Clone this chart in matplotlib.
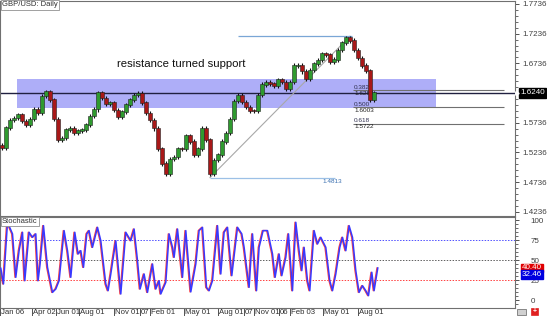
import numpy as np
import matplotlib
matplotlib.use('Agg')
import matplotlib.pyplot as plt
from matplotlib.patches import Rectangle

plt.rcParams['font.family'] = ['Liberation Sans', 'DejaVu Sans']

# daily GBP/USD closes, one every 4 chart pixels
bar_x = np.arange(2, 379, 4)
closes = [1.5320, 1.5650, 1.5780, 1.5817, 1.5870, 1.5760, 1.5700, 1.5800, 1.5960, 1.5900,
          1.6180, 1.6255, 1.6120, 1.5800, 1.5450, 1.5480, 1.5620, 1.5640, 1.5560, 1.5600,
          1.5620, 1.5700, 1.5850, 1.5960, 1.6240, 1.6150, 1.6060, 1.6070, 1.5950, 1.5830,
          1.5920, 1.6040, 1.6120, 1.6200, 1.6230, 1.6070, 1.5900, 1.5780, 1.5640, 1.5300,
          1.5050, 1.4880, 1.5120, 1.5160, 1.5300, 1.5290, 1.5520, 1.5420, 1.5200, 1.5300,
          1.5640, 1.5450, 1.4870, 1.5110, 1.5200, 1.5420, 1.5560, 1.5800, 1.6100, 1.6200,
          1.6080, 1.6000, 1.5940, 1.5930, 1.6200, 1.6380, 1.6420, 1.6390, 1.6360, 1.6460,
          1.6420, 1.6300, 1.6420, 1.6700, 1.6700, 1.6600, 1.6480, 1.6620, 1.6730, 1.6790,
          1.6900, 1.6880, 1.6760, 1.6800, 1.6960, 1.7080, 1.7170, 1.7120, 1.6960, 1.6820,
          1.6700, 1.6610, 1.6120, 1.6240]
first_open = 1.5360

bid = 1.6240
price_ticks = [1.4236, 1.4736, 1.5236, 1.5736, 1.6736, 1.7236, 1.7736]
zone_lo, zone_hi = 1.5985, 1.6473
zone_x = (17, 436)

fib_low, fib_high = 1.4813, 1.7193
fib_levels = [0.382, 0.500, 0.618]
fib_values = [1.6284, 1.6003, 1.5722]

# stochastic turning points (x in chart pixels, value 0-100)
stoch_x = [0, 2.7, 6.7, 11.7, 15, 18.3, 21.7, 24, 28.3, 31.7, 35, 37.3, 39.3, 42.7, 46.7,
           51.7, 55, 58.3, 63.3, 66.7, 70, 74, 77.3, 80, 82.7, 86, 88.3, 91.7, 96.7, 100,
           105, 107.3, 110, 115, 120, 125, 130, 133.3, 136.7, 139.3, 143.3, 146.7, 151.7, 155,
           158.3, 160, 165, 168.3, 171.7, 173.3, 176.7, 181.7, 185, 190, 195, 198.3, 201.7,
           205.7, 208.3, 211.7, 216.7, 220, 223.3, 226.7, 231, 236.7, 241, 243.3, 248.3, 251.7,
           255.7, 258.3, 262.3, 266.7, 271.7, 274.3, 278.3, 281, 285, 287.7, 291.7, 295, 298.3,
           301, 303.3, 306.7, 309, 313.3, 316.7, 320, 325, 329, 331.7, 335, 339, 341.7, 345,
           348.3, 351.7, 355, 358.3, 361.7, 365, 367.7, 371, 373.3, 377]
stoch_k = [40, 20.4, 97.5, 83, 28.7, 62, 85, 24.5, 85, 78.7, 83, 24.5, 45.4, 93.3, 41.2,
           9.9, 14.1, 24.5, 87.1, 62, 28.7, 85, 57.9, 62, 41.2, 83, 87.1, 66.2, 91.2, 74.5,
           20.4, 12, 32.9, 74.5, 7.9, 85, 74.5, 89.1, 49.5, 14.1, 32.9, 9.9, 45.4, 14.1,
           24.5, 7.9, 22.4, 83, 66.2, 53.7, 89.1, 28.7, 87.1, 10.5, 45.4, 87.1, 91.2,
           16.2, 12, 24.5, 93.3, 32.9, 85, 91.2, 30.8, 91.2, 83, 66.2, 16.2, 83,
           12, 66.2, 87.1, 87.1, 57.9, 28.7, 57.9, 30.8, 53.7, 83, 12, 97.5, 62,
           37.1, 66.2, 24.5, 12, 87.1, 70.4, 78.7, 66.2, 24.5, 12, 32.9, 66.2, 78.7, 62,
           93.3, 78.7, 37.1, 9.9, 18.3, 12, 5.8, 35, 12, 40.4]
stoch_main_last = 40.40
stoch_signal_last = 32.46
stoch_levels = [75, 50, 25]

date_pos = [0, 32, 56, 79, 114, 140, 150, 184, 218, 244, 254, 279, 290, 323, 358]
date_labels = ['Jan 06', 'Apr 02', 'Jun 01', 'Aug 01', 'Nov 01', '07', 'Feb 01', 'May 01',
               'Aug 01', '07', 'Nov 01', '06', 'Feb 03', 'May 01', 'Aug 01']

W, H = 547, 316
fig = plt.figure(figsize=(W / 100, H / 100), dpi=100)
ax = fig.add_axes([0, 100 / H, 515 / W, 215 / H])
ax2 = fig.add_axes([0, 8.5 / H, 515 / W, 90.5 / H])

spine_col = '#707070'
for a in (ax, ax2):
    a.set_xlim(0, 515)
    for s in a.spines.values():
        s.set_color(spine_col)
        s.set_linewidth(0.8)
    a.set_facecolor('white')

# --- price panel
ax.set_ylim(1.4167, 1.7786)
ax.add_patch(Rectangle((zone_x[0], zone_lo), zone_x[1] - zone_x[0], zone_hi - zone_lo,
                       facecolor='#aeaef8', edgecolor='none', zorder=1))

ax.axhline(bid, color='#202040', lw=1.0, zorder=2)

opens = [first_open] + closes[:-1]
for x, o, c in zip(bar_x, opens, closes):
    hi = max(o, c) + 0.0035
    lo = min(o, c) - 0.0035
    ax.vlines(x, lo, hi, color='#101010', lw=0.8, zorder=3)
    col = '#2f9a2f' if c >= o else '#a81818'
    ax.bar(x, abs(c - o) + 0.0008, bottom=min(o, c), width=3.2, color=col,
           edgecolor='#202020', linewidth=0.4, zorder=4)

# fibonacci tool
ax.plot([210, 350], [fib_low, fib_high], color='#a8a8a8', lw=0.8, zorder=2)
ax.hlines(fib_high, 238, 352, color='#7aa6d6', lw=0.9, zorder=2)
ax.hlines(fib_low, 210, 335, color='#9cc0e6', lw=0.9, zorder=2)
ax.text(322, fib_low - 0.003, '%.4f' % fib_low, color='#3a6fb0', fontsize=4.6,
        va='top', ha='left')
for lev, val in zip(fib_levels, fib_values):
    ax.hlines(val, 353, 504, color='#707070', lw=0.8, zorder=2)
    ax.text(354, val + 0.0003, '%.3f' % lev, fontsize=4.6, color='#303050', va='bottom')
    ax.text(354, val - 0.0012, '%.4f' % val, fontsize=4.6, color='#202020', va='top')

ax.text(181, 1.6726, 'resistance turned support', fontsize=8.2, ha='center', va='center',
        color='#101010')

ax.text(2, 1.7780, 'GBP/USD: Daily', fontsize=5.5, va='top', ha='left', color='#303030',
        bbox=dict(boxstyle='square,pad=0.15', fc='white', ec='#909090', lw=0.6))

ax.yaxis.tick_right()
ax.set_yticks(price_ticks)
ax.set_yticklabels(['%.4f' % p for p in price_ticks])
ax.set_yticks(np.arange(1.4236, 1.78, 0.01), minor=True)
ax.tick_params(axis='y', which='major', length=3, width=0.7, color='#505050',
               labelsize=5.8, labelcolor='#404040', pad=2)
ax.tick_params(axis='y', which='minor', length=2, width=0.6, color='#505050')
ax.tick_params(axis='x', which='both', bottom=False, labelbottom=False)

ax.annotate('%.4f' % bid, xy=(1.0, bid), xycoords=('axes fraction', 'data'),
            xytext=(4, 0), textcoords='offset points', fontsize=5.8, color='white',
            va='center', ha='left',
            bbox=dict(boxstyle='square,pad=0.15', fc='black', ec='black'))
ax.plot([1.004], [bid], marker='>', ms=2.5, color='white', transform=ax.get_yaxis_transform(),
        clip_on=False, zorder=10)

# --- stochastic panel
ax2.set_ylim(-9, 104.1)
lev_cols = ['#5050ff', '#606060', '#ff4040']
for lev, col in zip(stoch_levels, lev_cols):
    ax2.axhline(lev, color=col, lw=0.7, ls=(0, (1.5, 1.5)), zorder=1)
ax2.plot(stoch_x, stoch_k, color='#ff4040', lw=1.0, zorder=2)
ax2.plot(np.array(stoch_x) + 0.8, stoch_k, color='#3838ff', lw=1.1, zorder=3)

ax2.text(2, 103, 'Stochastic', fontsize=5.5, va='top', ha='left', color='#303030',
         bbox=dict(boxstyle='square,pad=0.15', fc='white', ec='#909090', lw=0.6))

ax2.yaxis.tick_right()
ax2.set_yticks([0, 25, 50, 75, 100])
ax2.set_yticks(np.arange(-5, 104, 5), minor=True)
ax2.tick_params(axis='y', which='major', length=3, width=0.7, color='#505050',
                labelsize=5.8, labelcolor='#404040', pad=8)
ax2.tick_params(axis='y', which='minor', length=2, width=0.6, color='#505050')

for val, col in [(stoch_main_last, '#e00000'), (stoch_signal_last, '#0000e0')]:
    ax2.annotate('%.2f' % val, xy=(1.0, val), xycoords=('axes fraction', 'data'),
                 xytext=(5, 0), textcoords='offset points', fontsize=5.8, color='white',
                 va='center', ha='left',
                 bbox=dict(boxstyle='square,pad=0.12', fc=col, ec=col))

ax2.set_xticks(date_pos)
ax2.set_xticklabels([''] * len(date_pos))
ax2.tick_params(axis='x', length=6.5, width=0.7, color='#505050', direction='out')
for x, lab in zip(date_pos, date_labels):
    ax2.text(x + 1.2, -0.05, lab, transform=ax2.get_xaxis_transform(), fontsize=5.6,
             color='#303030', va='center', ha='left')

# small buttons in the lower right corner
fig.patches.append(Rectangle((517 / W, 1.5 / H), 9 / W, 6 / H, transform=fig.transFigure,
                             fc='#d0d0d0', ec='#606060', lw=0.5))
fig.patches.append(Rectangle((531 / W, 1.5 / H), 7 / W, 7 / H, transform=fig.transFigure,
                             fc='#e02020', ec='#e02020', lw=0.5))
fig.text(534.5 / W, 5 / H, '+', color='white', fontsize=5, ha='center', va='center',
         fontweight='bold')

fig.savefig('out.png', dpi=100)
